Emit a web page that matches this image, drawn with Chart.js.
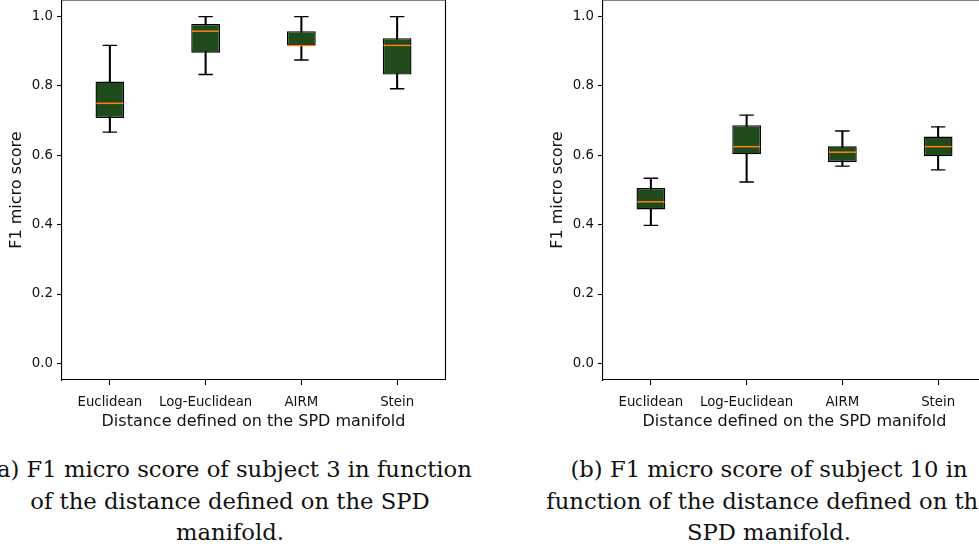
<!DOCTYPE html>
<html>
<head>
<meta charset="utf-8">
<script src="https://cdn.jsdelivr.net/npm/chart.js@4.4.1/dist/chart.umd.min.js"></script>
<style>
  html, body { margin: 0; padding: 0; background: #fff; }
  body { width: 979px; height: 551px; overflow: hidden; position: relative; }
  canvas { position: absolute; top: 0; }
  #chartA { left: 0; }
  #chartB { left: 541px; }
  .caption {
    position: absolute;
    top: 454px;
    width: 600px;
    text-align: center;
    white-space: nowrap;
    font-family: "DejaVu Serif", serif;
    font-size: 22.7px;
    line-height: 31.5px;
    color: #111;
  }
  #capA { left: -70px; }
  #capB { left: 469px; }
</style>
</head>
<body>
<canvas id="chartA" width="490" height="440"></canvas>
<canvas id="chartB" width="490" height="440"></canvas>
<div class="caption" id="capA">(a) F1 micro score of subject 3 in function<br>of the distance defined on the SPD<br>manifold.</div>
<div class="caption" id="capB">(b) F1 micro score of subject 10 in<br>function of the distance defined on the<br>SPD manifold.</div>

<script>
/* data */

const categories = ['Euclidean', 'Log-Euclidean', 'AIRM', 'Stein'];
const yTicks = [0, 0.2, 0.4, 0.6, 0.8, 1.0];

// subject 3
const s3Min = [0.667, 0.833, 0.875, 0.792];
const s3Q1 = [0.708, 0.896, 0.917, 0.833];
const s3Median = [0.750, 0.958, 0.917, 0.917];
const s3Q3 = [0.813, 0.979, 0.958, 0.938];
const s3Max = [0.917, 1.000, 1.000, 1.000];

// subject 10
const s10Min = [0.398, 0.523, 0.569, 0.558];
const s10Q1 = [0.444, 0.603, 0.580, 0.597];
const s10Median = [0.466, 0.625, 0.609, 0.625];
const s10Q3 = [0.506, 0.687, 0.626, 0.654];
const s10Max = [0.534, 0.716, 0.670, 0.682];


/* styles */

const boxFill = '#1f4a1c';
const edge = '#000000';
const medianColor = '#ff7f0e';
const textColor = '#111111';


// draws the top and right spines, chart.js only gives left/bottom
const framePlugin = {
  id: 'frame',
  afterDraw(chart) {
    const { ctx, chartArea } = chart;
    const { left, right, top, bottom } = chartArea;
    ctx.save();
    ctx.strokeStyle = edge;
    ctx.lineWidth = 1.1;
    ctx.beginPath();
    ctx.moveTo(left, top);
    ctx.lineTo(right + 0.5, top);
    ctx.lineTo(right + 0.5, bottom);
    ctx.stroke();
    ctx.restore();
  }
};

function pairs(lo, hi) {
  return lo.map((v, i) => [v, hi[i]]);
}

function boxplot(canvasId, min, q1, median, q3, max) {
  const ctx = document.getElementById(canvasId).getContext('2d');

  return new Chart(ctx, {
    type: 'bar',
    data: {
      labels: categories,
      datasets: [
        {
          // whisker line from min to max, box is drawn over it
          label: 'whisker',
          data: pairs(min, max),
          backgroundColor: edge,
          barThickness: 1.4,
          grouped: false,
          order: 3,
        },
        {
          label: 'box',
          data: pairs(q1, q3),
          backgroundColor: boxFill,
          borderColor: edge,
          borderWidth: 1.4,
          borderSkipped: false,
          barPercentage: 0.3,
          categoryPercentage: 1,
          grouped: false,
          order: 2,
        },
        {
          label: 'cap low',
          type: 'line',
          data: min,
          showLine: false,
          pointStyle: 'line',
          pointRadius: 7.2,
          pointBorderColor: edge,
          pointBorderWidth: 1.4,
          order: 1,
        },
        {
          label: 'cap high',
          type: 'line',
          data: max,
          showLine: false,
          pointStyle: 'line',
          pointRadius: 7.2,
          pointBorderColor: edge,
          pointBorderWidth: 1.4,
          order: 1,
        },
        {
          label: 'median',
          type: 'line',
          data: median,
          showLine: false,
          pointStyle: 'line',
          pointRadius: 13.6,
          pointBorderColor: medianColor,
          pointBorderWidth: 1.5,
          order: 0,
        }
      ]
    },
    options: {
      responsive: false,
      animation: false,
      layout: {
        autoPadding: false,
        padding: { left: 0, right: 45, top: 0, bottom: 0 }
      },
      plugins: {
        legend: { display: false },
        tooltip: { enabled: false },
      },
      scales: {
        x: {
          grid: {
            display: true,
            offset: false,
            drawOnChartArea: false,
            drawTicks: true,
            tickLength: 5,
            tickColor: edge,
            tickWidth: 1.1,
          },
          border: { display: true, color: edge, width: 1.1 },
          ticks: {
            color: textColor,
            padding: 10,
            maxRotation: 0,
            autoSkip: false,
            font: { family: 'DejaVu Sans', size: 13.3 },
          },
          title: {
            display: true,
            text: 'Distance defined on the SPD manifold',
            color: textColor,
            padding: { top: 0, bottom: 8.7 },
            font: { family: 'DejaVu Sans', size: 16 },
          },
          afterFit(scale) {
            scale.height = 60;
            scale.paddingLeft = 0;
            scale.paddingRight = 0;
          }
        },
        y: {
          min: -0.048,
          max: 1.048,
          grid: {
            display: true,
            drawOnChartArea: false,
            drawTicks: true,
            tickLength: 5,
            tickColor: edge,
            tickWidth: 1.1,
          },
          border: { display: true, color: edge, width: 1.1 },
          ticks: {
            color: textColor,
            padding: 4,
            font: { family: 'DejaVu Sans', size: 13.3 },
            callback: (v) => v.toFixed(1),
          },
          afterBuildTicks(scale) {
            scale.ticks = yTicks.map(v => ({ value: v }));
          },
          title: {
            display: true,
            text: 'F1 micro score',
            color: textColor,
            padding: { top: 7, bottom: 0 },
            font: { family: 'DejaVu Sans', size: 16 },
          },
          afterFit(scale) {
            scale.width = 62;
            scale.paddingTop = 0;
            scale.paddingBottom = 0;
          }
        }
      }
    },
    plugins: [framePlugin]
  });
}

boxplot('chartA', s3Min, s3Q1, s3Median, s3Q3, s3Max);
boxplot('chartB', s10Min, s10Q1, s10Median, s10Q3, s10Max);
</script>
</body>
</html>
